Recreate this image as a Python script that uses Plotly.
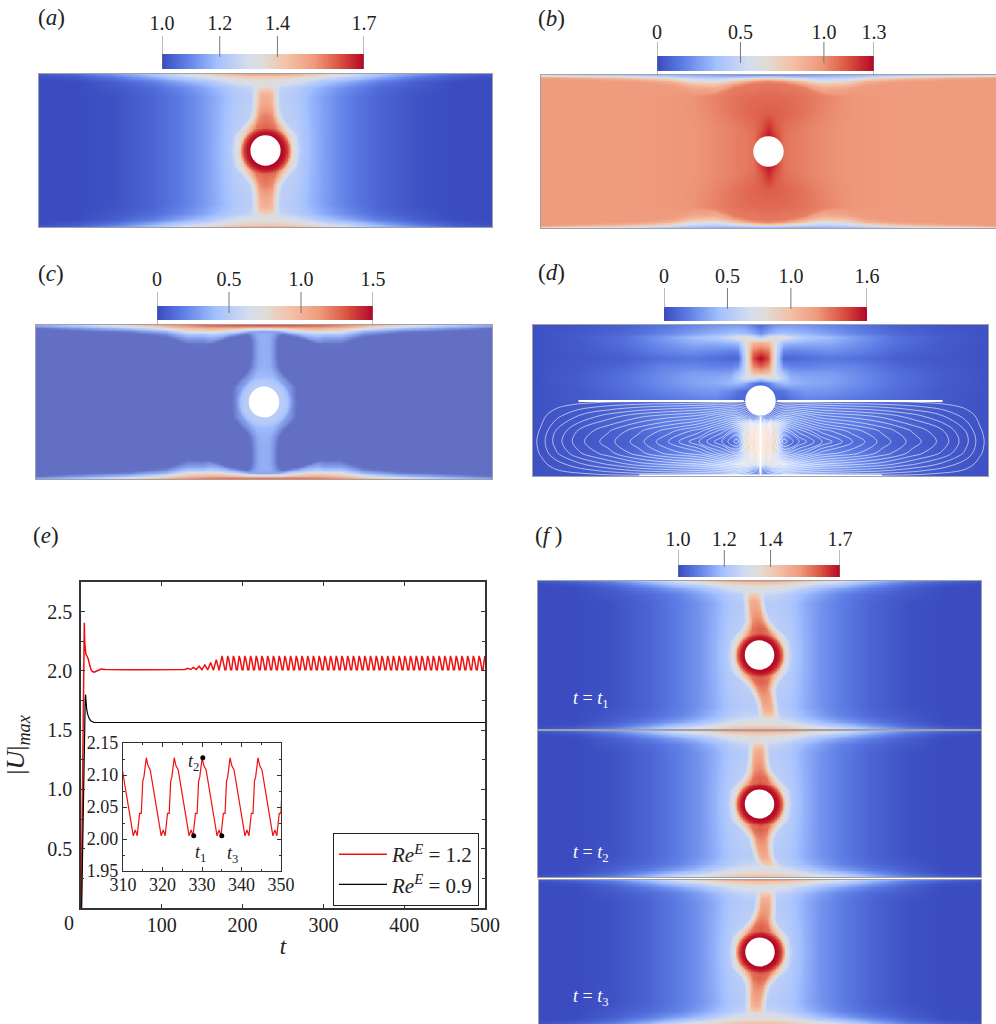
import numpy as np
import plotly.graph_objects as go

W, H = 996, 1024
SERIF = "Liberation Serif"

# ---------- colour maps ----------
COOLWARM = [[0, "#3a4cc0"], [0.12, "#5f7fe6"], [0.27, "#a3c0ff"], [0.42, "#d5dcee"], [0.5, "#e0dcd6"],
            [0.62, "#f4c0a6"], [0.75, "#ef9a7c"], [0.88, "#d9523f"], [1, "#b40426"]]
COOLWARM_C = [[0, "#3a4cc0"], [0.087, "#626fc3"], [0.14, "#7c93e0"], [0.27, "#a3c0ff"], [0.42, "#d5dcee"], [0.5, "#e0dcd6"],
              [0.62, "#f4c0a6"], [0.75, "#ef9a7c"], [0.88, "#d9523f"], [1, "#b40426"]]

# ---------- panel (a): background table, |x| columns, |y| rows ----------
X_BG = [0, 1, 2, 3, 4, 5.5, 7.5, 10, 12.5, 15]
Y_BG = [0, 3.5, 4.1, 4.5, 4.75, 4.9, 5]
ZA = [
 [1.27, 1.27, 1.25, 1.18, 1.13, 1.08, 1.04, 1.01, 1.00, 1.00],
 [1.24, 1.24, 1.22, 1.17, 1.13, 1.08, 1.04, 1.01, 1.00, 1.00],
 [1.27, 1.26, 1.23, 1.19, 1.15, 1.10, 1.05, 1.02, 1.00, 1.00],
 [1.34, 1.33, 1.30, 1.25, 1.20, 1.15, 1.08, 1.03, 1.00, 1.00],
 [1.38, 1.37, 1.35, 1.31, 1.27, 1.22, 1.14, 1.06, 1.02, 1.00],
 [1.42, 1.42, 1.40, 1.37, 1.33, 1.27, 1.18, 1.09, 1.03, 1.01],
 [1.50, 1.50, 1.47, 1.42, 1.36, 1.29, 1.20, 1.12, 1.05, 1.02],
]
ZF = [
 [1.27, 1.27, 1.24, 1.17, 1.12, 1.08, 1.04, 1.01, 1.00, 1.00],
 [1.23, 1.23, 1.21, 1.16, 1.12, 1.08, 1.04, 1.01, 1.00, 1.00],
 [1.27, 1.26, 1.23, 1.18, 1.14, 1.09, 1.05, 1.02, 1.00, 1.00],
 [1.33, 1.32, 1.29, 1.24, 1.19, 1.14, 1.08, 1.03, 1.00, 1.00],
 [1.38, 1.37, 1.35, 1.31, 1.26, 1.21, 1.13, 1.05, 1.01, 1.00],
 [1.44, 1.43, 1.41, 1.37, 1.33, 1.27, 1.17, 1.08, 1.03, 1.01],
 [1.52, 1.51, 1.48, 1.43, 1.37, 1.30, 1.20, 1.11, 1.05, 1.02],
]
# halo round the cylinder: value by radius
RING_R = [1, 1.25, 1.4, 1.55, 1.65, 1.75, 1.9, 2.1]
RING_A = [1.70, 1.68, 1.64, 1.58, 1.48, 1.33, 1.25, 1.0]
RING_F = [1.70, 1.68, 1.63, 1.56, 1.44, 1.30, 1.24, 1.0]
# neck: half width and core value by |y|
NECK_Y = [0, 1.0, 1.4, 1.8, 2.3, 3, 3.7, 4.05, 4.3, 4.5, 5]
NECK_W_A = [1.6, 1.5, 1.25, .95, .72, .66, .66, .66, .66, .5, .4]
NECK_V_A = [1.6, 1.6, 1.6, 1.58, 1.56, 1.50, 1.47, 1.40, 1.33, 1.0, 1.0]
NECK_W_F = [1.5, 1.4, 1.15, .85, .62, .55, .52, .52, .55, .5, .4]
NECK_V_F = [1.6, 1.6, 1.6, 1.6, 1.56, 1.52, 1.48, 1.42, 1.34, 1.0, 1.0]
NECK_S = [0, .55, 1, 1.45]
NECK_K = [1, .93, .4, 0]
# sideways drift of the neck by |y|
DRIFT_NONE = [0, 0, 0, 0, 0, 0, 0, 0, 0, 0, 0]
DRIFT_F1_TOP = [0, 0, 0, -.05, -.15, -.3, -.4, -.4, -.4, -.4, -.4]
DRIFT_F1_BOT = [0, 0, 0, .1, .2, .4, .55, .6, .6, .6, .6]
DRIFT_F2_TOP = [0, 0, 0, 0, -.05, -.1, -.1, -.1, -.1, -.1, -.1]
DRIFT_F2_BOT = [0, 0, 0, .03, .08, .15, .3, .5, .8, .9, .9]
DRIFT_F3_TOP = [0, 0, 0, .05, .15, .3, .35, .35, .35, .35, .35]
DRIFT_F3_BOT = [0, 0, 0, -.05, -.15, -.25, -.3, -.3, -.3, -.3, -.3]

# ---------- lens shared by (b) and (c): its edge |y| by |x| ----------
LENS_X = [0, 1, 2.3, 3.6, 5, 6.5, 9, 12, 15]
LENS_Y = [4.6, 4.55, 4.3, 3.8, 3.75, 4.25, 4.5, 4.6, 4.75]
S_WALL = [0, .25, .5, .75, 1]      # 0 at the lens edge, 1 at the wall

# ---------- panel (b) ----------
XB = [0, .5, 1, 1.5, 2.2, 3, 4, 5, 6, 7.5, 10, 12.5, 15]
YB = [0, 1, 1.5, 2.5, 3.5, 4.0, 5]
ZB = [
 [1.25, 1.20, 1.07, 1.05, 1.04, 1.02, 1.00, .985, .98, .975, .97, .97, .97],
 [1.27, 1.17, 1.07, 1.05, 1.04, 1.02, 1.00, .985, .98, .975, .97, .97, .97],
 [1.22, 1.13, 1.08, 1.06, 1.04, 1.02, 1.00, .985, .98, .975, .97, .97, .97],
 [1.12, 1.11, 1.10, 1.09, 1.07, 1.04, 1.01, .99, .98, .975, .97, .97, .97],
 [1.09, 1.09, 1.09, 1.08, 1.07, 1.05, 1.02, .99, .98, .975, .97, .97, .97],
 [1.07, 1.07, 1.06, 1.06, 1.05, 1.03, 1.00, .98, .975, .97, .97, .97, .97],
 [1.04, 1.04, 1.04, 1.03, 1.03, 1.02, 1.00, .98, .975, .97, .97, .97, .97],
]
WALL_B = [
 [.99, .99, .98, .97, .96, .96, .96, .96, .96, .965, .97, .97, .97],
 [.90, .90, .90, .90, .90, .91, .93, .94, .94, .95, .955, .96, .96],
 [.72, .72, .72, .73, .74, .76, .80, .83, .85, .87, .89, .90, .92],
 [.48, .48, .48, .49, .50, .52, .56, .60, .64, .69, .75, .79, .83],
 [.24, .24, .24, .24, .25, .27, .29, .31, .33, .37, .43, .48, .55],
]

# ---------- panel (c) ----------
XC = [0, 2, 4, 6, 9, 12, 15]
YC = [0, 5]
ZC = [
 [.13, .13, .13, .13, .13, .13, .13],
 [.13, .13, .13, .13, .13, .13, .13],
]
WALL_C = [
 [.33, .26, .15, .14, .14, .14, .13],
 [.55, .46, .22, .20, .18, .16, .14],
 [.80, .72, .42, .40, .32, .24, .17],
 [1.10, 1.05, .85, .75, .55, .36, .24],
 [1.32, 1.30, 1.25, 1.10, .80, .50, .30],
]
RING_C = [1, 1.25, 1.45, 1.6, 1.72, 1.9, 2.1]
RING_CV = [.50, .50, .46, .40, .28, .18, .10]
NECK_W_C = [1.5, 1.45, 1.2, .9, .66, .6, .6, .62, .7, .9, 1.0]
NECK_V_C = [.46, .46, .42, .38, .34, .33, .33, .33, .33, .33, .33]

# ---------- panel (d): |x| columns, signed y rows ----------
XD = [0, .5, 1, 1.5, 2, 3, 4.5, 6.5, 9, 12, 15]
YD = [5, 4.5, 4.2, 3.8, 3.3, 2.8, 2.3, 1.8, 1.5, 1.15, .6, 0, -.6, -1.15, -1.5, -1.8, -2.3, -2.8, -3.3, -3.8, -4.2, -4.5, -5]
ZD = [
 [.12, .20, .28, .30, .30, .27, .22, .15, .08, .03, .02],
 [.25, .35, .42, .44, .42, .38, .30, .20, .10, .05, .02],
 [.50, .68, .80, .78, .65, .50, .42, .28, .14, .06, .02],
 [1.10, 1.05, .70, .42, .38, .36, .35, .25, .13, .05, .02],
 [1.38, 1.30, .66, .22, .20, .22, .25, .20, .10, .05, .02],
 [1.60, 1.42, .60, .10, .10, .13, .16, .13, .07, .04, .02],
 [1.38, 1.25, .62, .25, .20, .20, .22, .20, .10, .05, .02],
 [1.05, .98, .65, .45, .32, .30, .30, .23, .13, .06, .02],
 [.55, .70, .72, .55, .38, .34, .32, .24, .14, .06, .02],
 [.12, .20, .35, .42, .40, .35, .32, .24, .14, .06, .02],
 [.10, .10, .12, .15, .22, .28, .26, .20, .12, .05, .02],
 [.10, .10, .10, .08, .13, .20, .18, .14, .10, .05, .02],
 [.10, .10, .12, .15, .20, .22, .20, .15, .10, .05, .02],
 [.20, .20, .30, .35, .30, .24, .20, .18, .10, .05, .02],
 [.60, .70, .72, .45, .30, .22, .20, .18, .10, .05, .02],
 [.90, .85, .75, .40, .25, .20, .17, .16, .09, .05, .02],
 [1.00, .95, .80, .35, .20, .15, .15, .13, .08, .04, .02],
 [1.05, 1.00, .82, .20, .10, .13, .13, .12, .07, .04, .02],
 [1.00, .95, .78, .35, .25, .20, .20, .16, .09, .05, .02],
 [.85, .80, .65, .42, .35, .30, .28, .20, .10, .05, .02],
 [.60, .70, .78, .70, .58, .45, .38, .25, .12, .05, .02],
 [.30, .40, .48, .48, .45, .38, .30, .20, .10, .05, .02],
 [.10, .20, .28, .30, .30, .27, .22, .15, .08, .03, .02],
]
# stream function of the lower half of (d)
XP = [0, .3, .8, 1.55, 2.5, 4, 6, 8, 10, 12, 13.5, 14.5, 15]
YP = [0, -.15, -.4, -1, -2, -2.73, -3.5, -4.2, -4.7, -4.9, -5]
PSI = [
 [0, 0, 0, 0, 0, 0, 0, 0, 0, 0, 0, 0, 0],
 [0, .5, .9, 1.5, 1.5, 1.2, 1.0, .9, .6, .2, 0, 0, 0],
 [0, 1.2, 2.4, 4, 3.5, 3, 2.6, 2.2, 1.6, .9, .2, 0, 0],
 [0, 3, 7, 9.5, 8.5, 6.5, 5.8, 5, 3.8, 2.4, 1.0, .05, 0],
 [0, 6, 14, 17.5, 15, 12, 10, 8.2, 6.3, 4.5, 2.4, .5, 0],
 [0, 8, 16, 20, 17.5, 14.5, 11.5, 9, 7, 5, 2.8, .8, 0],
 [0, 6, 13, 16, 14, 11, 9.8, 8, 6, 4.2, 2.2, .5, 0],
 [0, 3.5, 7, 9, 8, 6.5, 5.8, 5, 3.6, 2.2, .9, .05, 0],
 [0, 1.3, 2.4, 4, 3.5, 3, 2.6, 2.2, 1.5, .7, .2, 0, 0],
 [0, .5, .9, 1.5, 1.5, 1.2, 1.0, .9, .5, .1, 0, 0, 0],
 [0, 0, 0, 0, 0, 0, 0, 0, 0, 0, 0, 0, 0],
]
SEP_X = [-12, -1.1, None, 1.1, 12, None, 0, 0, None, -8, 8]
SEP_Y = [-.03, -.03, None, -.03, -.03, None, -1.05, -5, None, -4.97, -4.97]

# ---------- panel (e) ----------
TICKS_X = [0, 100, 200, 300, 400, 500]
T_START = [0.2, 1, 2, 3, 4, 4.1, 4.6, 5, 6, 7, 8, 9, 10, 11, 12.4, 14, 16.5, 18, 20, 22, 25, 30, 40, 60, 80, 100, 115, 122]
U_START = [0, .55, 1.15, 1.75, 2.3, 2.406, 2.25, 2.16, 2.14, 2.13, 2.12, 2.10, 2.07, 2.04, 2.01, 1.995, 1.99, 1.995, 2.0, 2.01, 2.015, 2.012, 2.01, 2.01, 2.01, 2.012, 2.012, 2.014]
T_GROWTH = [125, 128.5, 132.1, 135.6, 139.1, 142.7, 146.2, 149.7, 153.3, 156.8, 160.4, 163.9, 167.4, 170.9]
U_GROWTH = [2.017, 2.012, 2.022, 2.012, 2.03, 2.012, 2.04, 2.01, 2.05, 2.008, 2.07, 2.006, 2.095, 2.005]
FIRST_PEAK, PERIOD, LAST_T = 174.5, 7.07, 500
CYCLE_TAU = [0, .4, 1.0, 1.5, 2.0, 2.5, 3.0, 3.5, 3.77, 4.27, 4.77, 5.37, 5.8, 6.17, 6.47]
CYCLE_U = [2.127, 2.115, 2.108, 2.09, 2.07, 2.05, 2.03, 2.012, 2.005, 2.014, 2.005, 2.04, 2.04, 2.09, 2.097]
T_BLACK = [0.8, 2, 4, 5.2, 5.6, 6, 7, 8, 10, 12, 14, 16, 20, 40, 100, 200, 300, 400, 500]
U_BLACK = [0, .6, 1.4, 1.75, 1.8, 1.74, 1.68, 1.64, 1.6, 1.58, 1.57, 1.565, 1.565, 1.565, 1.565, 1.565, 1.565, 1.565, 1.565]
MARK_T = [327.9, 330.2, 335]
MARK_U = [2.005, 2.127, 2.005]
LEGEND_RED = "<i>Re<sup>E</sup></i> = 1.2"
LEGEND_BLACK = "<i>Re<sup>E</sup></i> = 0.9"

# ---------- colour bars ----------
BARS = [
 dict(vmin=1.0, vmax=1.7, ticks=[1.0, 1.2, 1.4, 1.7], text=["1.0", "1.2", "1.4", "1.7"], px=(162, 364, 54, 69), top=36, inner=57, end=69, gap=1),
 dict(vmin=0, vmax=1.3, ticks=[0, .5, 1.0, 1.3], text=["0", "0.5", "1.0", "1.3"], px=(657, 874, 56, 71), top=42, inner=63, end=75, gap=-2),
 dict(vmin=0, vmax=1.5, ticks=[0, .5, 1.0, 1.5], text=["0", "0.5", "1.0", "1.5"], px=(157, 373, 306, 320), top=292, inner=313, end=325, gap=1),
 dict(vmin=0, vmax=1.6, ticks=[0, .5, 1.0, 1.6], text=["0", "0.5", "1.0", "1.6"], px=(664, 867, 307, 321), top=288, inner=309, end=309, gap=0),
 dict(vmin=1.0, vmax=1.7, ticks=[1.0, 1.2, 1.4, 1.7], text=["1.0", "1.2", "1.4", "1.7"], px=(678, 840, 565, 577), top=550, inner=567, end=577, gap=-1),
]

# ---------- helpers ----------
fig = go.Figure()
layout = {}
_n = [1]
FX = np.arange(-150, 151) / 10
FY = np.arange(-50, 51) / 10
MX, MY = np.meshgrid(FX, FY)
RAD = np.hypot(MX, MY)


def new_axes(x0, x1, y0, y1, xa, ya):
    _n[0] += 1
    n = _n[0]
    layout[f"xaxis{n}"] = dict(domain=[x0 / W, x1 / W], anchor=f"y{n}", **xa)
    layout[f"yaxis{n}"] = dict(domain=[1 - y1 / H, 1 - y0 / H], anchor=f"x{n}", **ya)
    return f"x{n}", f"y{n}"


def table(xs, ys, rows, yq):
    """Value of a |x| by row table on the fine grid; yq is the row coordinate of each fine point."""
    by_row = np.array([np.interp(np.abs(FX), xs, r) for r in rows])
    out = np.empty(MX.shape)
    for j in range(len(FX)):
        out[:, j] = np.interp(yq[:, j], ys, by_row[:, j])
    return out


def neck(z, widths, values, top_drift, bot_drift):
    drift = np.where(FY >= 0, np.interp(np.abs(FY), NECK_Y, top_drift), np.interp(np.abs(FY), NECK_Y, bot_drift))
    hw = np.interp(np.abs(FY), NECK_Y, widths)
    val = np.interp(np.abs(FY), NECK_Y, values)
    s = np.abs(MX - drift[:, None]) / hw[:, None]
    k = np.interp(s, NECK_S, NECK_K)
    return np.maximum(z, z + (val[:, None] - z) * k)


def lens_weight():
    edge = np.interp(np.abs(FX), LENS_X, LENS_Y)[None, :]
    return edge, np.clip((edge - np.abs(MY)) / .25 + .5, 0, 1)


def lens(xs, ys, rows_in, wall_rows):
    edge, k = lens_weight()
    inner = table(xs, ys, rows_in, np.abs(MY))
    s = np.clip((np.abs(MY) - edge) / (5 - edge), 0, 1)
    outer = table(xs, S_WALL, wall_rows, s)
    return k * inner + (1 - k) * outer


def round3(z):
    return np.round(z, 3).tolist()


FIELD_AX = dict(range=[-15, 15], showticklabels=False, ticks="", showgrid=False, zeroline=False,
                showline=True, mirror=True, linecolor="#a0a0a8", linewidth=1)
FIELD_AY = dict(range=[-5, 5], showticklabels=False, ticks="", showgrid=False, zeroline=False,
                showline=True, mirror=True, linecolor="#a0a0a8", linewidth=1)
shapes, notes = [], []


def field(box, x, y, z, vmin, vmax, scale=COOLWARM):
    xr, yr = new_axes(*box, FIELD_AX, FIELD_AY)
    fig.add_trace(go.Heatmap(x=x, y=y, z=z, zmin=vmin, zmax=vmax, colorscale=scale, zsmooth="best",
                             showscale=False, xaxis=xr, yaxis=yr, hoverinfo="skip"))
    shapes.append(dict(type="circle", xref=xr, yref=yr, x0=-1, x1=1, y0=-1, y1=1,
                       fillcolor="white", line=dict(width=0), layer="above"))
    return xr, yr


def note(text, px, py, size=19, color="black"):
    notes.append(dict(text=text, x=px / W, y=1 - py / H, xref="paper", yref="paper", showarrow=False,
                      xanchor="center", yanchor="middle", font=dict(family=SERIF, size=size, color=color)))


def wake(bg, ring_v, widths, values, top, bot):
    z = table(X_BG, Y_BG, bg, np.abs(MY))
    z = neck(z, widths, values, top, bot)
    return np.maximum(z, np.interp(RAD, RING_R, ring_v))


# ---------- fields ----------
z_a = wake(ZA, RING_A, NECK_W_A, NECK_V_A, DRIFT_NONE, DRIFT_NONE)
field((39, 492, 74, 227), FX, FY, round3(z_a), 1.0, 1.7)

field((541, 996, 75, 228), FX, FY, round3(lens(XB, YB, ZB, WALL_B)), 0, 1.3)

z_c = lens(XC, YC, ZC, WALL_C)
_, k_c = lens_weight()
z_c_in = np.maximum(neck(z_c, NECK_W_C, NECK_V_C, DRIFT_NONE, DRIFT_NONE), np.interp(RAD, RING_C, RING_CV))
z_c = k_c * z_c_in + (1 - k_c) * z_c
field((36, 492, 325, 479), FX, FY, round3(z_c), 0, 1.5, COOLWARM_C)

rows_d = [np.round(np.interp(np.abs(FX), XD, r), 3).tolist() for r in ZD]
xd, yd = field((533, 988, 325, 476), FX, YD, rows_d, 0, 1.6)
xp_full = [-v for v in XP[:0:-1]] + XP
psi_full = [r[:0:-1] + r for r in PSI]
fig.add_trace(go.Contour(x=xp_full, y=YP, z=psi_full, contours=dict(coloring="none", start=.4, end=19.6, size=1),
                         line=dict(color="rgba(255,255,255,.85)", width=.7, smoothing=1), showscale=False,
                         showlegend=False, xaxis=xd, yaxis=yd, hoverinfo="skip"))
fig.add_trace(go.Scatter(x=SEP_X, y=SEP_Y, mode="lines", line=dict(color="white", width=2),
                         xaxis=xd, yaxis=yd, showlegend=False, hoverinfo="skip"))

for box, top, bot in [((538, 981, 581, 729), DRIFT_F1_TOP, DRIFT_F1_BOT),
                      ((538, 981, 731, 877), DRIFT_F2_TOP, DRIFT_F2_BOT),
                      ((539, 981, 880, 1024), DRIFT_F3_TOP, DRIFT_F3_BOT)]:
    field(box, FX, FY, round3(wake(ZF, RING_F, NECK_W_F, NECK_V_F, top, bot)), 1.0, 1.7)

# ---------- colour bars ----------
for b in BARS:
    x0, x1, y0, y1 = b["px"]
    xa = dict(range=[b["vmin"], b["vmax"]], side="top", tickvals=b["ticks"], ticktext=b["text"], ticks="",
              ticklabelstandoff=b["gap"], showline=False, showgrid=False, zeroline=False,
              tickfont=dict(family=SERIF, size=20, color="#222"))
    bottom = max(b["end"], y1)
    ya = dict(range=[bottom, b["top"]], visible=False)
    xr, yr = new_axes(x0, x1, b["top"], bottom, xa, ya)
    vals = np.linspace(b["vmin"], b["vmax"], 120)
    h = (y1 - y0) / 4
    fig.add_trace(go.Heatmap(x=vals, y=[y0 + h, y1 - h], z=[vals, vals], zmin=b["vmin"],
                             zmax=b["vmax"], colorscale=COOLWARM, zsmooth="best", showscale=False,
                             xaxis=xr, yaxis=yr, hoverinfo="skip"))
    tx, ty = [], []
    for v in b["ticks"]:
        is_end = v in (b["vmin"], b["vmax"])
        tx += [v, v, None]
        ty += [b["top"], b["end"] if is_end else b["inner"], None]
    fig.add_trace(go.Scatter(x=tx, y=ty, mode="lines", line=dict(color="#777", width=1), xaxis=xr, yaxis=yr,
                             showlegend=False, hoverinfo="skip", cliponaxis=False))

# ---------- panel (e) ----------
t_red, u_red = list(T_START) + list(T_GROWTH), list(U_START) + list(U_GROWTH)
peak = FIRST_PEAK
while peak < LAST_T:
    for tau, u in zip(CYCLE_TAU, CYCLE_U):
        if peak + tau <= LAST_T:
            t_red.append(round(peak + tau, 2))
            u_red.append(u)
    peak += PERIOD

AXIS_COL = "#333"
main_x = dict(range=[0, 500], tickvals=TICKS_X[1:], ticks="inside", ticklen=4, tickwidth=1, tickcolor=AXIS_COL,
              showline=True, mirror="ticks", linecolor=AXIS_COL, linewidth=1.5, showgrid=False, zeroline=False,
              tickfont=dict(family=SERIF, size=20, color="#222"), ticklabelstandoff=-2,
              title=dict(text="<i>t</i>", font=dict(family=SERIF, size=23, color="#222"), standoff=3))
main_y = dict(range=[0, 2.75], tickvals=[.5, 1, 1.5, 2, 2.5], ticktext=["0.5", "1.0", "1.5", "2.0", "2.5"],
              ticks="inside", ticklen=4, tickwidth=1, tickcolor=AXIS_COL, showline=True, mirror="ticks",
              linecolor=AXIS_COL, linewidth=1.5, showgrid=False, zeroline=False,
              minor=dict(tickvals=[.25, .75, 1.25, 1.75, 2.25], ticks="inside", ticklen=3, tickcolor=AXIS_COL),
              tickfont=dict(family=SERIF, size=20, color="#222"), ticklabelstandoff=3,
              title=dict(text="|<i>U</i>|<sub><i>max</i></sub>", font=dict(family=SERIF, size=26, color="#222")))
xm, ym = new_axes(81, 485, 582, 908, main_x, main_y)
fig.add_trace(go.Scatter(x=t_red, y=u_red, mode="lines", line=dict(color="#f01010", width=1.5), name=LEGEND_RED,
                         xaxis=xm, yaxis=ym, hoverinfo="skip"))
fig.add_trace(go.Scatter(x=T_BLACK, y=U_BLACK, mode="lines", line=dict(color="black", width=1.2), name=LEGEND_BLACK,
                         xaxis=xm, yaxis=ym, hoverinfo="skip"))
note("0", 69, 923, size=20, color="#222")

in_x = dict(range=[310, 350], tickvals=[310, 320, 330, 340, 350], ticks="inside", ticklen=4, tickcolor=AXIS_COL,
            showline=True, mirror="ticks", linecolor=AXIS_COL, linewidth=1.2, showgrid=False, zeroline=False,
            minor=dict(tickvals=[315, 325, 335, 345], ticks="inside", ticklen=2, tickcolor=AXIS_COL),
            tickfont=dict(family=SERIF, size=18, color="#222"), ticklabelstandoff=-3)
in_y = dict(range=[1.95, 2.15], tickvals=[1.95, 2.0, 2.05, 2.1, 2.15], ticktext=["1.95", "2.00", "2.05", "2.10", "2.15"],
            ticks="inside", ticklen=4, tickcolor=AXIS_COL, showline=True, mirror="ticks", linecolor=AXIS_COL, linewidth=1.2,
            showgrid=False, zeroline=False, minor=dict(tickvals=[1.975, 2.025, 2.075, 2.125], ticks="inside", ticklen=2, tickcolor=AXIS_COL),
            tickfont=dict(family=SERIF, size=18, color="#222"))
xi, yi = new_axes(123, 281, 743, 871, in_x, in_y)
fig.add_trace(go.Scatter(x=t_red, y=u_red, mode="lines", line=dict(color="#f01010", width=1.2), xaxis=xi, yaxis=yi,
                         showlegend=False, hoverinfo="skip"))
fig.add_trace(go.Scatter(x=MARK_T, y=MARK_U, mode="markers", marker=dict(color="black", size=5), xaxis=xi, yaxis=yi,
                         showlegend=False, hoverinfo="skip"))
note("<i>t</i><sub>1</sub>", 200, 853, size=18, color="#222")
note("<i>t</i><sub>2</sub>", 193, 762, size=18, color="#222")
note("<i>t</i><sub>3</sub>", 232, 854, size=18, color="#222")

# ---------- texts ----------
for txt, px, py in [("(<i>a</i>)", 51, 17), ("(<i>b</i>)", 551, 18), ("(<i>c</i>)", 51, 273),
                    ("(<i>d</i>)", 551, 272), ("(<i>e</i>)", 46, 535), ("(<i>f</i> )", 548, 535)]:
    note(txt, px, py, size=23, color="#222")
for txt, py in [("<i>t</i> = <i>t</i><sub>1</sub>", 699), ("<i>t</i> = <i>t</i><sub>2</sub>", 853),
                ("<i>t</i> = <i>t</i><sub>3</sub>", 997)]:
    note(txt, 590, py, size=18, color="white")

layout.update(
    width=W, height=H, margin=dict(l=0, r=0, t=0, b=0, autoexpand=False), paper_bgcolor="white", plot_bgcolor="white",
    font=dict(family=SERIF), shapes=shapes, annotations=notes,
    legend=dict(x=333 / W, y=1 - 869.5 / H, xanchor="left", yanchor="middle", bgcolor="white", bordercolor="#222",
                borderwidth=1, font=dict(family=SERIF, size=21, color="#222"), itemwidth=48, tracegroupgap=0),
    showlegend=True,
)
fig.update_layout(layout)
fig.write_html("out.html", config={"displayModeBar": False},
               post_script="document.body.style.margin='0';document.body.style.overflow='hidden';")
